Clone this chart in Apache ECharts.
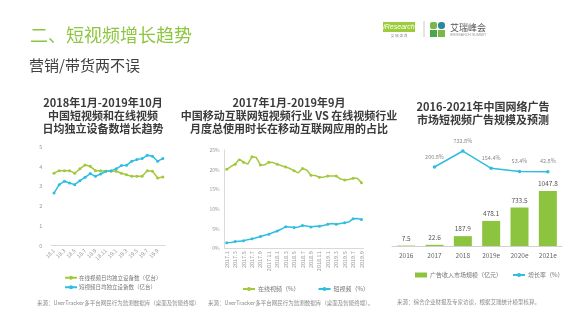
<!DOCTYPE html>
<html><head><meta charset="utf-8">
<script src="https://cdn.jsdelivr.net/npm/echarts@6/dist/echarts.min.js"></script>
<style>html,body{margin:0;padding:0;background:#fff;}#c{width:581px;height:327px;}</style>
</head><body><div id="c"></div>
<script>
// Chart 1 data
const months1 = ["18.1","18.2","18.3","18.4","18.5","18.6","18.7","18.8","18.9","18.10","18.11","18.12","19.1","19.2","19.3","19.4","19.5","19.6","19.7","19.8","19.9","19.10"];
const onlineDevices = [3.67,3.80,3.80,3.80,3.67,3.89,4.09,4.02,3.80,3.80,3.77,3.77,3.77,3.67,3.59,3.51,3.51,3.51,3.80,3.77,3.43,3.48];
const shortDevices = [2.66,3.09,3.26,3.17,3.09,3.29,3.46,3.65,3.51,3.63,3.77,3.80,3.89,4.06,4.07,4.28,4.36,4.41,4.58,4.53,4.28,4.41];
const yTicks1 = [0,1,2,3,4,5];
// Chart 2 data
const months2 = ["2017.1","2017.2","2017.3","2017.4","2017.5","2017.6","2017.7","2017.8","2017.9","2017.10","2017.11","2017.12","2018.1","2018.2","2018.3","2018.4","2018.5","2018.6","2018.7","2018.8","2018.9","2018.10","2018.11","2018.12","2019.1","2019.2","2019.3","2019.4","2019.5","2019.6","2019.7","2019.8","2019.9"];
const onlineShare = [20.1,20.8,21.4,22.7,21.9,21.4,23.3,23.1,21.2,21.2,21.9,21.8,21.4,21.0,20.7,20.3,19.7,19.2,20.3,19.9,18.6,18.5,18.1,18.1,18.4,18.4,18.4,17.6,17.4,17.5,17.8,17.8,16.7];
const shortShare = [1.4,1.5,1.7,1.8,1.9,2.2,2.4,2.7,3.0,3.3,3.6,4.0,4.4,4.9,5.5,5.4,5.3,5.4,5.8,5.7,5.4,5.6,5.6,5.8,6.1,6.3,6.1,6.3,6.5,6.7,7.5,7.6,7.3];
const yTicks2 = [0,5,10,15,20,25];
// Chart 3 data
const years3 = ["2016","2017","2018","2019e","2020e","2021e"];
const adRevenue = [7.5,22.6,187.9,478.1,733.5,1047.8];
const growthRate = [null,200.8,732.8,154.4,53.4,42.8];

const GREEN = '#a3c83c', BLUE = '#2fbde0', BARGREEN = '#8cc43f';
const CJK = '"Noto Sans CJK SC","Noto Sans",sans-serif';
const chart = echarts.init(document.getElementById('c'), null, {renderer:'canvas'});

const titleStyle = (x,y,text) => ({type:'text', x:x, y:y, style:{text:text, fill:'#3b3b3b', font:'bold 11px '+CJK, textAlign:'center', textVerticalAlign:'top', lineHeight:13}});
const smallText = (x,y,text,size,color) => ({type:'text', x:x, y:y, style:{text:text, fill:color||'#8a8a8a', font:(size||5.5)+'px '+CJK, textVerticalAlign:'middle'}});

const option = {
  backgroundColor:'#ffffff',
  animation:false,
  textStyle:{fontFamily:CJK},
  graphic:[
    {type:'text', x:30, y:35, style:{text:'二、短视频增长趋势', fill:'#8dc63f', font:'18px '+CJK, textVerticalAlign:'middle'}},
    {type:'text', x:29, y:65, style:{text:'营销/带货两不误', fill:'#404040', font:'15px '+CJK, textVerticalAlign:'middle'}},
    // logo
    {type:'rect', shape:{x:383,y:22,width:32,height:10}, style:{fill:'#9ccc3a'}},
    {type:'text', x:399, y:27, style:{text:'iResearch', fill:'#ffffff', font:'italic 7px "Liberation Sans",sans-serif', textAlign:'center', textVerticalAlign:'middle'}},
    {type:'text', x:399, y:36, style:{text:'艾 瑞 咨 询', fill:'#888', font:'3.5px '+CJK, textAlign:'center', textVerticalAlign:'middle'}},
    {type:'line', shape:{x1:424,y1:21,x2:424,y2:37}, style:{stroke:'#bbb', lineWidth:0.8}},
    {type:'rect', shape:{x:430,y:22,width:7,height:7,r:2}, style:{fill:'#7ab648'}},
    {type:'rect', shape:{x:438,y:22,width:7,height:7,r:3}, style:{fill:'#2a8a9a'}},
    {type:'rect', shape:{x:430,y:30,width:7,height:7}, style:{fill:'#4aa84a'}},
    {type:'rect', shape:{x:438,y:30,width:7,height:7}, style:{fill:'#7ab648'}},
    {type:'text', x:450, y:28, style:{text:'艾瑞峰会', fill:'#555', font:'9px '+CJK, textVerticalAlign:'middle'}},
    {type:'text', x:450, y:35, style:{text:'IRESEARCH SUMMIT', fill:'#999', font:'3.6px "Liberation Sans",sans-serif', textVerticalAlign:'middle'}},
    // chart titles
    titleStyle(103, 96, '2018年1月-2019年10月\n中国短视频和在线视频\n日均独立设备数增长趋势'),
    titleStyle(289, 96, '2017年1月-2019年9月\n中国移动互联网短视频行业 VS 在线视频行业\n月度总使用时长在移动互联网应用的占比'),
    titleStyle(483, 100, '2016-2021年中国网络广告\n市场短视频广告规模及预测'),
    // sources
    smallText(37, 303, '来源：UserTracker多平台网民行为监测数据库（桌面及智能终端）'),
    smallText(208, 303, '来源：UserTracker多平台网民行为监测数据库（桌面及智能终端）。'),
    smallText(397, 302, '来源：综合企业财报及专家访谈，根据艾瑞统计模型核算。')
  ],
  legend:[
    {orient:'vertical', left:59, top:270, itemWidth:12, itemHeight:5, itemGap:4, textStyle:{fontSize:5.5, color:'#777', padding:[0,0,0,-3]}, data:['在线视频日均独立设备数（亿台）','短视频日均独立设备数（亿台）']},
    {orient:'horizontal', left:237, top:281, itemWidth:12, itemHeight:5, itemGap:18, textStyle:{fontSize:6, color:'#777', padding:[0,0,0,-2]}, data:['在线视频（%）','短视频（%）']},
    {orient:'horizontal', left:410, top:267, itemWidth:12, itemHeight:5, itemGap:10, textStyle:{fontSize:6, color:'#777', padding:[0,0,0,-2]}, data:[{name:'广告收入市场规模（亿元）', icon:'rect'},'增长率（%）']}
  ],
  grid:[
    {left:51.4, top:147, width:114, height:98.5},
    {left:224.6, top:150, width:139, height:98.3},
    {left:392, top:186, width:170, height:60},
    {left:392, top:140, width:170, height:33}
  ],
  xAxis:[
    {gridIndex:0, type:'category', data:months1, boundaryGap:true,
     axisLine:{lineStyle:{color:'#d9d9d9'}}, axisTick:{show:false},
     axisLabel:{interval:1, rotate:45, fontSize:5.5, color:'#999', margin:4}},
    {gridIndex:1, type:'category', data:months2, boundaryGap:true,
     axisLine:{lineStyle:{color:'#d9d9d9'}}, axisTick:{show:false},
     axisLabel:{interval:1, rotate:90, fontSize:5.5, color:'#999', margin:3}},
    {gridIndex:2, type:'category', data:years3,
     axisLine:{lineStyle:{color:'#d0d0d0'}}, axisTick:{show:false},
     axisLabel:{fontSize:6.5, color:'#666', margin:6}},
    {gridIndex:3, type:'category', data:years3, show:false}
  ],
  yAxis:[
    {gridIndex:0, type:'value', min:yTicks1[0], max:yTicks1[yTicks1.length-1], interval:1,
     axisLine:{show:false}, axisTick:{show:false}, splitLine:{show:false},
     axisLabel:{fontSize:5.5, color:'#999', margin:9}},
    {gridIndex:1, type:'value', min:yTicks2[0], max:yTicks2[yTicks2.length-1], interval:5,
     axisLine:{show:true, lineStyle:{color:'#d9d9d9'}}, axisTick:{show:false}, splitLine:{show:false},
     axisLabel:{fontSize:5, color:'#999', margin:5, formatter:'{value}%'}},
    {gridIndex:2, type:'value', min:0, max:1143, show:false, splitLine:{show:false}},
    {gridIndex:3, type:'value', min:0, max:1100, show:false, splitLine:{show:false}}
  ],
  series:[
    {name:'在线视频日均独立设备数（亿台）', type:'line', xAxisIndex:0, yAxisIndex:0, data:onlineDevices, symbol:'circle', symbolSize:3, itemStyle:{color:GREEN}, lineStyle:{width:1.5, color:GREEN}},
    {name:'短视频日均独立设备数（亿台）', type:'line', xAxisIndex:0, yAxisIndex:0, data:shortDevices, symbol:'circle', symbolSize:3, itemStyle:{color:BLUE}, lineStyle:{width:1.5, color:BLUE}},
    {name:'在线视频（%）', type:'line', xAxisIndex:1, yAxisIndex:1, data:onlineShare, symbol:'circle', symbolSize:3, itemStyle:{color:GREEN}, lineStyle:{width:1.5, color:GREEN}},
    {name:'短视频（%）', type:'line', xAxisIndex:1, yAxisIndex:1, data:shortShare, symbol:'circle', symbolSize:3, itemStyle:{color:BLUE}, lineStyle:{width:1.5, color:BLUE}},
    {name:'广告收入市场规模（亿元）', type:'bar', xAxisIndex:2, yAxisIndex:2, data:adRevenue, barWidth:18, itemStyle:{color:BARGREEN},
     label:{show:true, position:'top', distance:4, fontSize:6.5, color:'#555', formatter:p=>p.value.toFixed(1)}},
    {name:'增长率（%）', type:'line', xAxisIndex:3, yAxisIndex:3, data:growthRate, symbol:'circle', symbolSize:3.5, itemStyle:{color:BLUE}, lineStyle:{width:1.5, color:BLUE},
     label:{show:true, position:'top', distance:6, fontSize:5.5, color:'#888', formatter:p=>p.value==null?'':p.value.toFixed(1)+'%'}}
  ]
};
chart.setOption(option);
</script></body></html>
